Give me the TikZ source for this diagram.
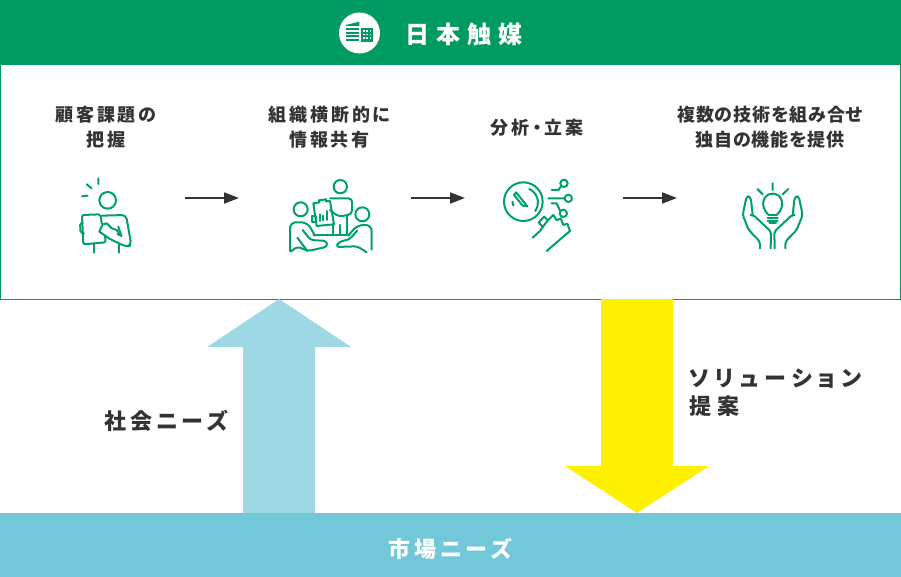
\documentclass[tikz,border=0pt]{standalone}
\usepackage{fontspec}
\setmainfont{Noto Sans CJK JP}[RawFeature=+palt,LetterSpace=14]
\usetikzlibrary{arrows.meta, positioning}
\definecolor{headgreen}{HTML}{009B63}
\definecolor{icongreen}{HTML}{00A06A}
\definecolor{marketblue}{HTML}{72C7D8}
\definecolor{needblue}{HTML}{9FD8E5}
\definecolor{answeryellow}{HTML}{FFF000}
\definecolor{inkgray}{HTML}{333333}

\tikzset{
  steptext/.style={font=\bfseries\fontsize{18}{25}\selectfont\addfontfeature{LetterSpace=16}, text=inkgray, align=center, inner sep=0pt},
  bigtext/.style={font=\bfseries\fontsize{22}{28}\selectfont\addfontfeature{LetterSpace=19}, text=inkgray, align=left, inner sep=0pt},
  icon/.style={draw=icongreen, line width=2pt, line cap=round, line join=round},
  flow/.style={-{Stealth[length=15pt,width=11pt,inset=0pt]}, line width=1.9pt, draw=inkgray},
}

\begin{document}
\begin{tikzpicture}[x=1pt, y=-1pt]
    \useasboundingbox (0,0) rectangle (901,577);

    %define the bands
    \fill[headgreen] (0,0) rectangle (901,65);
    \draw[headgreen, line width=1pt] (0.5,65) rectangle (900.5,299);
    \fill[needblue] (243,513) -- (243,347) -- (207,347) -- (279,299) -- (351,347) -- (315,347) -- (315,513) -- cycle;
    \fill[answeryellow] (601,299) -- (601,466) -- (565,466) -- (637,513) -- (709,466) -- (673,466) -- (673,299) -- cycle;
    \fill[marketblue] (0,513) rectangle (901,577);

    %define the labels
    \node[font=\bfseries\fontsize{24}{28}\selectfont\addfontfeature{LetterSpace=29}, text=white, inner sep=0pt] (company) at (464,34) {日本触媒};
    \node[steptext] (issue) at (106,127.5) {顧客課題の\\把握};
    \node[steptext] (share) at (329.5,127.5) {組織横断的に\\情報共有};
    \node[steptext] (plan) at (537,127.5) {分析・立案};
    \node[steptext, font=\bfseries\fontsize{18}{25}\selectfont\addfontfeature{LetterSpace=5}] (tech) at (770,127.5) {複数の技術を組み合せ\\独自の機能を提供};
    \node[bigtext] (social) at (166,421) {社会ニーズ};
    \node[bigtext, anchor=west, font=\bfseries\fontsize{22}{28}\selectfont\addfontfeature{LetterSpace=27}] (solution) at (689,392.5) {ソリューション\\提案};
    \node[bigtext, text=white] (market) at (450,548.5) {市場ニーズ};

    %define the link
    \coordinate (a1) at (185,198);
    \coordinate (b1) at (239,198);
    \coordinate (a2) at (411,198);
    \coordinate (b2) at (465,198);
    \coordinate (a3) at (623,198);
    \coordinate (b3) at (677,198);
    \draw[flow] (a1) -- (b1);
    \draw[flow] (a2) -- (b2);
    \draw[flow] (a3) -- (b3);

    %building in the header
    \fill[white] (359.5,33) circle (20.5);
    \begin{scope}[shift={(320,0)}, x=0.3333pt, y=-0.3333pt]
      \fill[headgreen] (78,75) -- (118,65) -- (118,78) -- (78,78) -- cycle;
      \foreach \yy in {84,95,106,117} {
        \fill[headgreen] (78,\yy) rectangle (118,\yy+6);
      }
      \fill[headgreen] (123,84) rectangle (158,125);
      \foreach \yy in {90,101,112} {
        \foreach \xx in {129,139,149} {
          \fill[white] (\xx,\yy) rectangle (\xx+5,\yy+5);
        }
      }
    \end{scope}

    %person with a clipboard
    \begin{scope}[shift={(60,165)}, x=0.3333pt, y=-0.3333pt]
      \draw[icon] (143,106) circle (25);
      \draw[icon] (115,40) -- (115,57) (80,58) -- (95,70) (66,94) -- (83,92);
      \draw[icon, rounded corners=2pt] (125,175) -- (122,148) -- (66,150) -- (70,238) -- (137,232) -- (135,212);
      \draw[icon, rounded corners=2pt] (68,172) -- (60,174) -- (62,205) -- (72,205);
      \draw[icon, rounded corners=4pt] (126,152) -- (198,150) -- (214,240) -- (200,246) -- (150,222);
      \draw[icon] (150,222) -- (118,200) -- (128,178) -- (140,175) -- (155,190) -- (170,195) -- (185,213) -- (172,207);
      \draw[icon] (175,185) -- (184,212);
      \draw[icon] (102,236) -- (102,263) (178,236) -- (178,263);
    \end{scope}

    %meeting around a chart
    \begin{scope}[shift={(270,165)}, x=0.3333pt, y=-0.3333pt]
      \draw[icon] (211,65) circle (20);
      \draw[icon] (92,133) circle (21);
      \draw[icon] (277,148) circle (21);
      \draw[icon] (130,115) -- (148,112) (168,109) -- (180,108) (180,108) -- (192,178) -- (140,183) -- (130,115);
      \draw[icon] (148,112) -- (147,106) -- (168,103) -- (168,109);
      \draw[icon] (150,148) -- (150,168) (160,152) -- (160,166) (172,138) -- (172,165);
      \draw[icon] (125,152) rectangle (138,170);
      \draw[icon, rounded corners=4pt] (180,100) -- (247,100) -- (246,148) -- (205,155) -- (180,135);
      \draw[icon] (232,150) -- (232,210) (190,180) -- (190,210) (210,180) -- (210,210) (130,210) -- (232,210);
      \draw[icon, rounded corners=6pt] (60,258) -- (60,172) -- (112,172) -- (135,212);
      \draw[icon, rounded corners=3pt] (62,260) -- (82,245) -- (115,258) -- (172,245) -- (170,228) -- (122,225) -- (98,195);
      \draw[icon] (82,218) -- (112,258);
      \draw[icon, rounded corners=6pt] (305,254) -- (305,180) -- (262,180) -- (235,212);
      \draw[icon, rounded corners=3pt] (290,262) -- (262,244) -- (198,246) -- (205,232) -- (240,222) -- (262,196);
    \end{scope}

    %magnifier and hand
    \begin{scope}[shift={(490,165)}, x=0.3333pt, y=-0.3333pt]
      \draw[icon] (100,110) circle (58);
      \draw[icon] (118,72) arc (-65:35:45);
      \draw[icon] (72,90) -- (78,82) -- (112,124) -- (98,122) -- cycle;
      \draw[icon] (67,110) -- (70,122);
      \draw[icon] (146,172) -- (162,155) -- (174,166) -- (158,186) -- cycle;
      \draw[icon] (128,218) -- (150,198) -- (158,186) (174,166) -- (190,150) -- (200,166) (200,166) -- (212,160) -- (220,180) (220,180) -- (232,176) -- (240,198) -- (170,258);
      \draw[icon] (222,55) circle (11) (235,100) circle (11) (220,145) circle (11);
      \draw[icon] (185,75) -- (205,75) -- (214,63) (175,100) -- (223,100) (185,115) -- (200,115) -- (210,137);
    \end{scope}

    %hands holding a bulb
    \begin{scope}[shift={(720,165)}, x=0.3333pt, y=-0.3333pt]
      \draw[icon] (146,150) .. controls (118,125) and (128,86) .. (158,86) .. controls (188,86) and (198,125) .. (170,150) -- cycle;
      \draw[icon] (143,160) -- (173,160) (143,168) -- (173,168) (148,174) -- (168,174);
      \draw[icon] (158,55) -- (158,75) (112,72) -- (128,88) (205,72) -- (188,88);
      \foreach \sgn in {1,-1} {
        \begin{scope}[shift={(158,0)}, xscale=\sgn]
          \draw[icon, rounded corners=3pt] (-38,250) -- (-38,230) -- (-72,195) -- (-90,150) -- (-78,93) -- (-66,96) -- (-60,150);
          \draw[icon, rounded corners=2pt] (-66,150) -- (-58,150) -- (-5,200) -- (-6,250);
        \end{scope}
      }
    \end{scope}
\end{tikzpicture}
\end{document}
